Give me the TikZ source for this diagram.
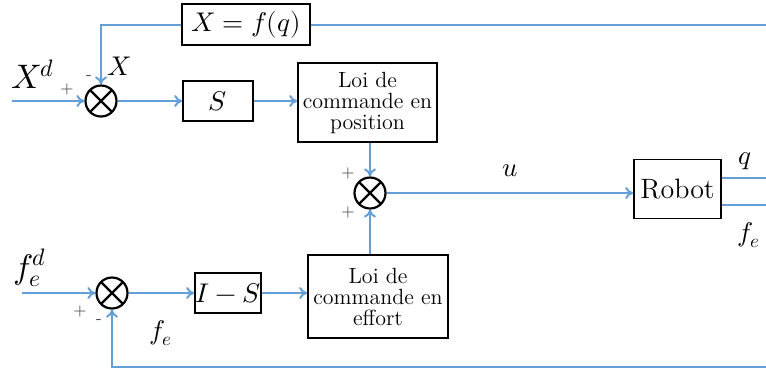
\documentclass[tikz,border=0pt]{standalone}
\usepackage{fontspec}
\usepackage{unicode-math}
\usetikzlibrary{arrows.meta}
\definecolor{wire}{RGB}{100,160,215}
\definecolor{sgn}{RGB}{70,70,70}
\tikzset{
  blk/.style={draw=black, line width=0.8pt, fill=white, inner sep=0pt, align=center},
  sumnode/.style={circle, draw=black, line width=1.1pt, minimum size=15.5pt, inner sep=0pt,
    path picture={\draw[line width=1.1pt] (path picture bounding box.north west) -- (path picture bounding box.south east)
                  (path picture bounding box.north east) -- (path picture bounding box.south west);}},
  sig/.style={wire, line width=1pt},
  arr/.style={sig, -{To[length=4pt,width=6pt]}},
  sg/.style={text=sgn, font=\fontsize{8}{8}\selectfont, inner sep=0pt},
  lbl/.style={inner sep=0pt, font=\fontsize{13.5}{13.5}\selectfont},
  big/.style={inner sep=0pt, font=\fontsize{17}{17}\selectfont},
  loi/.style={blk, font=\fontsize{11}{10.5}\selectfont},
}
\begin{document}
\begin{tikzpicture}[x=0.5pt,y=-0.5pt]
\useasboundingbox (0,0) rectangle (766,371);
% blocks
\node[blk, minimum width=64pt, minimum height=20.5pt, font=\fontsize{13.5}{13.5}\selectfont] (fq) at (246,24.5) {$X = f(q)$};
\node[sumnode] (s1) at (101,101) {};
\node[blk, minimum width=35pt, minimum height=20pt, font=\fontsize{13.5}{13.5}\selectfont] (S) at (218,101) {$S$};
\node[loi, minimum width=69.5pt, minimum height=39.5pt] (lp) at (367.5,102.5) {Loi de\\commande en\\position};
\node[sumnode] (s2) at (370,193) {};
\node[blk, minimum width=43.5pt, minimum height=29.5pt, font=\fontsize{14}{14}\selectfont] (rb) at (677.5,189) {Robot};
\node[sumnode] (s3) at (112,293) {};
\node[blk, minimum width=33pt, minimum height=20pt, font=\fontsize{13.5}{13.5}\selectfont] (IS) at (228,293) {$I - S$};
\node[loi, minimum width=70pt, minimum height=41.5pt] (le) at (378,296.5) {Loi de\\commande en\\effort};
% free ends
\coordinate (inX) at (12,101);
\coordinate (inF) at (22,293);
\coordinate (qR) at (766,178);
\coordinate (fR) at (766,205);
\coordinate (topR) at (766,24.5);
\coordinate (botR) at (766,367);
% connectors
\draw[arr] (inX) -- (s1.west);
\draw[arr] (s1.east) -- (S.west);
\draw[arr] (S.east) -- (S.east -| lp.west);
\draw[arr] (lp.south -| s2) -- (s2.north);
\draw[arr] (s2.east) -- (s2.east -| rb.west);
\draw[sig] (rb.east |- qR) -- (qR);
\draw[sig] (rb.east |- fR) -- (fR);
\draw[sig] (topR) -- (fq.east);
\draw[arr] (fq.west) -| (s1.north);
\draw[arr] (inF) -- (s3.west);
\draw[arr] (s3.east) -- (IS.west);
\draw[arr] (IS.east) -- (IS.east -| le.west);
\draw[arr] (le.north -| s2) -- (s2.south);
\draw[arr] (botR) -| (s3.south);
% labels
\node[big] (lXd) at (33,74) {$X^{d}$};
\node[lbl] (lX) at (119,66) {$X$};
\node[sg] (p1) at (67,89) {+};
\node[sg] (m1) at (89,78) {-};
\node[sg] (p2) at (348,173) {+};
\node[sg] (p3) at (348,212) {+};
\node[lbl] (lu) at (510,171) {$u$};
\node[lbl] (lq) at (745,161) {$q$};
\node[lbl] (lfe) at (749,235) {$f_e$};
\node[big] (lFd) at (30,268) {$f_e^{d}$};
\node[sg] (p4) at (80,311) {+};
\node[sg] (m4) at (99,322) {-};
\node[lbl] (lfe2) at (161,333) {$f_e$};
\end{tikzpicture}
\end{document}
